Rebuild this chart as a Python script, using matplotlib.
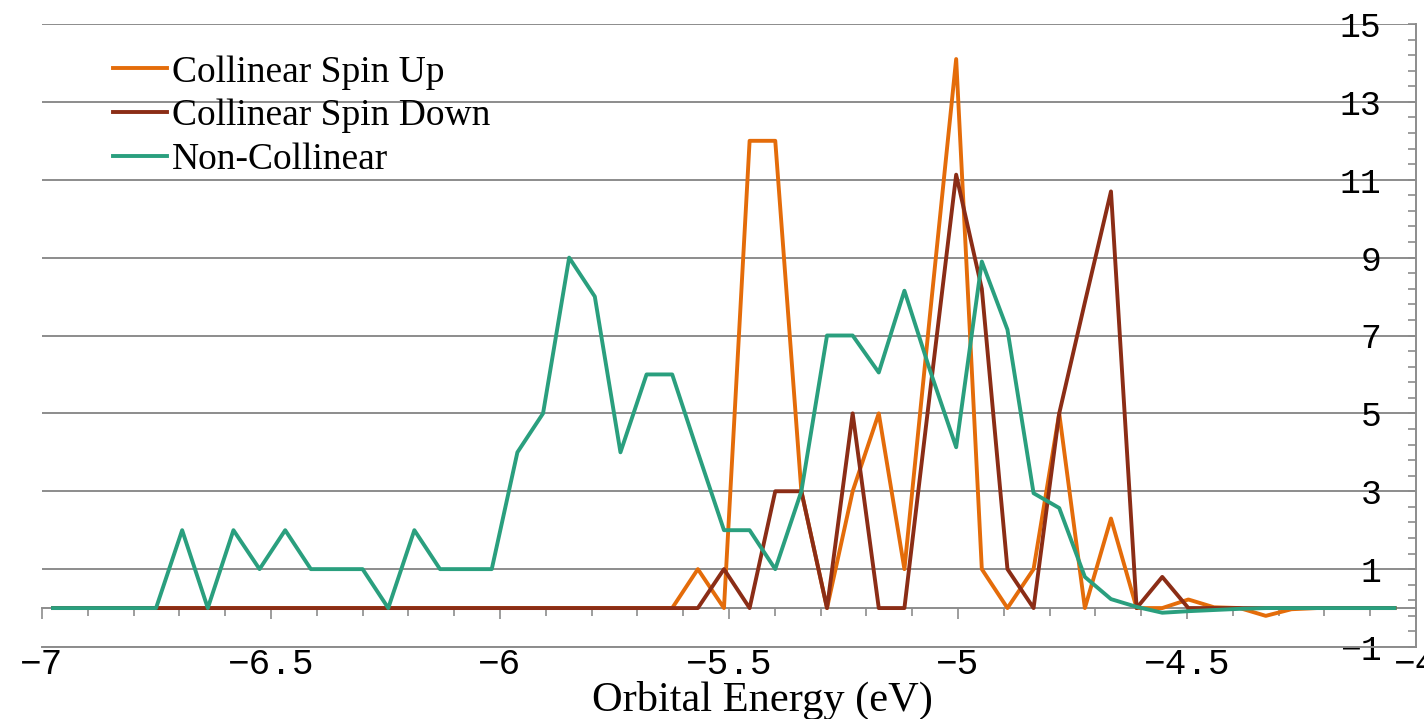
import numpy as np
import matplotlib.pyplot as plt
from matplotlib.ticker import MultipleLocator, FuncFormatter

# orbital energies (eV), shared by all three series
energy = [-6.976, -6.920, -6.863, -6.807, -6.751, -6.694, -6.638, -6.582, -6.525, -6.469,
          -6.413, -6.356, -6.300, -6.244, -6.187, -6.131, -6.075, -6.018, -5.962, -5.906,
          -5.849, -5.793, -5.737, -5.680, -5.624, -5.568, -5.511, -5.455, -5.399, -5.342,
          -5.286, -5.230, -5.173, -5.117, -5.061, -5.004, -4.948, -4.892, -4.835, -4.779,
          -4.723, -4.666, -4.610, -4.554, -4.497, -4.441, -4.385, -4.328, -4.272, -4.216,
          -4.159, -4.103, -4.047]

spin_up = [0, 0, 0, 0, 0, 0, 0, 0, 0, 0,
           0, 0, 0, 0, 0, 0, 0, 0, 0, 0,
           0, 0, 0, 0, 0, 1, 0, 12, 12, 3,
           0, 3, 5, 1, 7.55, 14.1, 1, 0, 1, 5,
           0, 2.3, 0, 0, 0.22, 0.02, 0, -0.2, -0.03, 0,
           0, 0, 0]

spin_down = [0, 0, 0, 0, 0, 0, 0, 0, 0, 0,
             0, 0, 0, 0, 0, 0, 0, 0, 0, 0,
             0, 0, 0, 0, 0, 0, 1, 0, 3, 3,
             0, 5, 0, 0, 5.55, 11.13, 8.2, 1, 0, 5,
             7.85, 10.7, 0, 0.8, 0, 0, 0, 0, 0, 0,
             0, 0, 0]

non_collinear = [0, 0, 0, 0, 0, 2, 0, 2, 1, 2,
                 1, 1, 1, 0, 2, 1, 1, 1, 4, 5,
                 9, 8, 4, 6, 6, 4, 2, 2, 1, 3,
                 7, 7, 6.05, 8.15, 6.1, 4.13, 8.9, 7.15, 2.95, 2.57,
                 0.8, 0.23, 0.03, -0.12, -0.08, -0.05, -0.02, 0, 0, 0,
                 0, 0, 0]

yticks = [-1, 1, 3, 5, 7, 9, 11, 13, 15]

grey = '#8c8c8c'
mono = 'Liberation Mono'
serif = 'Liberation Serif'

fig = plt.figure(figsize=(14.24, 7.19), dpi=100)
ax = fig.add_axes([42 / 1424, 72 / 719, 1374 / 1424, 623 / 719])

ax.plot(energy, spin_up, color='#E46C0A', lw=2.8, label='Collinear Spin Up')
ax.plot(energy, spin_down, color='#8B2D16', lw=2.8, label='Collinear Spin Down')
ax.plot(energy, non_collinear, color='#2A9F7E', lw=2.8, label='Non-Collinear')

ax.set_xlim(-7, -4)
ax.set_ylim(-1, 15)

for s in ['top', 'left']:
    ax.spines[s].set_visible(False)
for s in ['bottom', 'right']:
    ax.spines[s].set_color(grey)
    ax.spines[s].set_linewidth(1.4)

fmt = FuncFormatter(lambda v, p: ('%g' % v).replace('-', '\u2212'))

ax.set_yticks(yticks)
ax.set_yticks(np.arange(-1, 15.01, 0.4), minor=True)
ax.yaxis.set_major_formatter(fmt)
ax.yaxis.tick_right()
ax.yaxis.grid(True, color=grey, lw=1.4)
ax.set_axisbelow(True)
ax.tick_params(axis='y', which='both', direction='in', length=5.5, color=grey,
               width=1.2, pad=-25, labelsize=25, labelfontfamily=mono)
for t in ax.get_yticklabels():
    t.set_ha('right')

ax.xaxis.set_major_locator(MultipleLocator(0.5))
ax.xaxis.set_major_formatter(fmt)
ax.tick_params(axis='x', length=0, pad=0, labelsize=26, labelfontfamily=mono)

# zero line with its own ticks
zero = ax.secondary_xaxis(1 / 16)
zero.xaxis.set_major_locator(MultipleLocator(0.5))
zero.xaxis.set_minor_locator(MultipleLocator(0.1))
zero.tick_params(which='both', direction='out', color=grey, width=1.2, labelbottom=False)
zero.tick_params(which='major', length=8)
zero.tick_params(which='minor', length=5.5)
zero.spines['bottom'].set_color(grey)
zero.spines['bottom'].set_linewidth(1.4)

leg = ax.legend(loc='upper left', bbox_to_anchor=(113 / 1424, 1 - 55 / 719),
                bbox_transform=fig.transFigure, frameon=False, borderpad=0,
                borderaxespad=0, handlelength=1.45, handletextpad=0.12,
                labelspacing=0.25, prop={'family': serif, 'size': 27})

fig.text(762 / 1424, 8 / 719, 'Orbital Energy (eV)', ha='center', va='baseline',
         fontsize=30.5, family=serif)

fig.savefig('out.png', dpi=100)
